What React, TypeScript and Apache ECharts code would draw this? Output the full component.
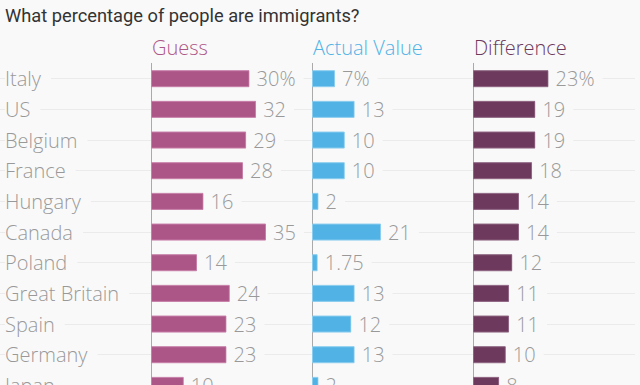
import React, { useEffect, useRef } from "react";
import * as echarts from "echarts";

const countries = ["Italy", "US", "Belgium", "France", "Hungary", "Canada", "Poland", "Great Britain", "Spain", "Germany", "Japan"];
const guess = [30, 32, 29, 28, 16, 35, 14, 24, 23, 23, 10];
const actual = [7, 13, 10, 10, 2, 21, 1.75, 13, 12, 13, 2];
const difference = [23, 19, 19, 18, 14, 14, 12, 11, 11, 10, 8];
const columns = ["Guess", "Actual Value", "Difference"];
const chartTitle = "What percentage of people are immigrants?";

const BG = "#f9f9f9";
const FONT = "Open Sans";
const colors = ["#ac5587", "#51b2e5", "#6d3a5d"];
const borders = ["#c77fa8", "#8acdee", "#8e6482"];
const lefts = [151, 312, 473];
const BAND = 30.67;
const TOP = 78.7 - BAND / 2;

export default function App() {
  const ref = useRef<HTMLDivElement>(null);
  useEffect(() => {
    document.body.style.margin = "0";
    const chart = echarts.init(ref.current!, null, { renderer: "svg" });
    const n = countries.length;
    const datasets = [guess, actual, difference];
    const grids: any[] = [
      { left: 0, right: 5, top: TOP + BAND / 2, height: BAND * (n - 1), containLabel: false, outerBoundsMode: "none" },
    ];
    const xAxes: any[] = [{ gridIndex: 0, type: "value", show: false, min: 0, max: 1 }];
    const yAxes: any[] = [
      {
        gridIndex: 0,
        type: "category",
        data: countries,
        inverse: true,
        boundaryGap: false,
        axisLine: { show: false },
        axisTick: { show: false },
        splitLine: { show: true, interval: 0, lineStyle: { color: "#ebebeb", width: 1 } },
        axisLabel: {
          inside: true,
          margin: 5,
          interval: 0,
          color: "#999",
          fontFamily: FONT,
          fontWeight: 300,
          fontSize: 20,
          backgroundColor: BG,
          padding: [0, 10, 0, 0],
        },
      },
    ];
    const series: any[] = [];
    datasets.forEach((d, i) => {
      grids.push({ left: lefts[i], width: 161, top: TOP, height: BAND * n, containLabel: false, outerBoundsMode: "none" });
      xAxes.push({ gridIndex: i + 1, type: "value", show: false, min: 0, max: 49 });
      yAxes.push({
        gridIndex: i + 1,
        type: "category",
        data: countries,
        inverse: true,
        axisLine: { show: true, lineStyle: { color: "#aaa", width: 1 } },
        axisTick: { show: false },
        axisLabel: { show: false },
        splitLine: { show: false },
      });
      series.push({
        type: "bar",
        xAxisIndex: i + 1,
        yAxisIndex: i + 1,
        data: d,
        barWidth: 17,
        itemStyle: { color: colors[i], borderColor: borders[i], borderWidth: 1 },
        label: {
          show: true,
          position: "right",
          distance: 0,
          color: "#999",
          fontFamily: FONT,
          fontWeight: 300,
          fontSize: 20,
          backgroundColor: BG,
          padding: [0, 8, 0, 7],
          formatter: (p: any) => (p.dataIndex === 0 ? p.value + "%" : String(p.value)),
        },
      });
    });
    const titles: any[] = [
      {
        text: chartTitle,
        left: 5,
        top: 6,
        padding: 0,
        textStyle: { color: "#333", fontFamily: "Roboto", fontWeight: "normal", fontSize: 18.3 },
      },
    ];
    columns.forEach((c, i) => {
      titles.push({
        text: c,
        left: lefts[i] + 1,
        top: 37,
        padding: 0,
        textStyle: { color: colors[i], fontFamily: FONT, fontWeight: 300, fontSize: 20 },
      });
    });
    chart.setOption({
      animation: false,
      backgroundColor: BG,
      title: titles,
      grid: grids,
      xAxis: xAxes,
      yAxis: yAxes,
      series,
    });
    return () => chart.dispose();
  }, []);
  return <div ref={ref} style={{ width: 640, height: 385 }} />;
}
